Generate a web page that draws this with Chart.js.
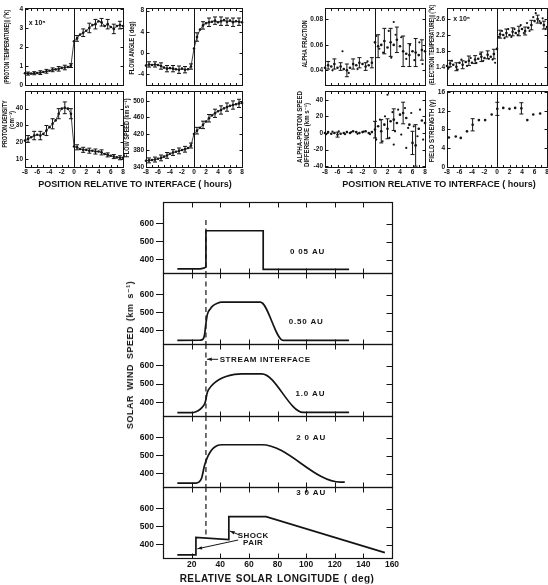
<!DOCTYPE html>
<html>
<head>
<meta charset="utf-8">
<title>Stream interface</title>
<script src="https://cdn.jsdelivr.net/npm/chart.js@4.4.1/dist/chart.umd.min.js"></script>
<style>
  html, body { margin: 0; padding: 0; background: #fff; }
  #fig { position: relative; width: 548px; height: 585px; overflow: hidden; }
  #fig canvas { position: absolute; }
  .txt { position: absolute; color: #141414; font-family: "Liberation Sans", "DejaVu Sans", sans-serif;
         font-weight: bold; white-space: nowrap; transform: translate(-50%, -50%);
         -webkit-font-smoothing: antialiased; will-change: transform; }
</style>
</head>
<body>
<div id="fig">
  <div class="txt" style="left:135px; top:184px; font-size:9px;">POSITION RELATIVE TO INTERFACE ( hours)</div>
  <div class="txt" style="left:439px; top:184px; font-size:9px;">POSITION RELATIVE TO INTERFACE ( hours)</div>
  <div class="txt" style="left:130px; top:355px; font-size:9px; letter-spacing:0.5px; word-spacing:2px; transform: translate(-50%, -50%) rotate(-90deg);">SOLAR WIND SPEED (km s⁻¹)</div>
  <div class="txt" style="left:277px; top:578px; font-size:10px; letter-spacing:0.4px; word-spacing:1px;">RELATIVE SOLAR LONGITUDE ( deg)</div>
</div>
<script>
// ---- datos: paneles superiores (horas respecto a la interfaz) ----
const hours = [-8, -7.5, -7, -6.5, -6, -5.5, -5, -4.5, -4, -3.5, -3, -2.5, -2, -1.5, -1, -0.5,
  0, 0.5, 1, 1.5, 2, 2.5, 3, 3.5, 4, 4.5, 5, 5.5, 6, 6.5, 7, 7.5, 8];
const hourLabels = [-8, -6, -4, -2, 0, 2, 4, 6, 8];
const hourTicks = [-8, -7, -6, -5, -4, -3, -2, -1, 0, 1, 2, 3, 4, 5, 6, 7, 8];

const protonTemp = [0.62, 0.6, 0.6, 0.62, 0.63, 0.65, 0.68, 0.72, 0.75, 0.8, 0.82, 0.85, 0.9, 0.92, 0.95, 1.02,
  2.3, 2.45, 2.65, 2.75, 2.85, 3.0, 3.15, 3.2, 3.35, 3.3, 3.1, 3.2, 3.05, 2.95, 3.1, 3.15, 3.1];
const protonTempErr = [0, 0.08, 0, 0.08, 0, 0.1, 0, 0.1, 0, 0.1, 0, 0.12, 0, 0.12, 0, 0.1,
  0, 0.15, 0, 0.2, 0, 0.25, 0, 0.25, 0, 0.2, 0, 0.25, 0, 0.25, 0, 0.2, 0];
const protonTempTicks = [0, 1, 2, 3, 4];

const flowAngle = [-2.4, -2.2, -2.3, -2.2, -2.3, -2.5, -2.8, -3.0, -2.9, -3.0, -3.1, -3.2, -3.0, -3.2, -3.1, -2.6,
  0.8, 3.0, 4.4, 5.2, 5.6, 5.8, 5.9, 6.1, 5.8, 6.0, 6.2, 5.9, 6.1, 5.8, 6.0, 5.9, 5.8];
const flowAngleErr = [0, 0.5, 0, 0.5, 0, 0.6, 0, 0.6, 0, 0.6, 0, 0.7, 0, 0.6, 0, 0.5,
  0, 0.8, 0, 0.7, 0, 0.8, 0, 0.7, 0, 0.8, 0, 0.7, 0, 0.8, 0, 0.7, 0];
const flowAngleTicks = [-4, 0, 4, 8];

const protonDensity = [21, 22, 23, 24, 24.5, 24, 25, 27, 29, 31, 33, 37, 40, 40.5, 40, 37,
  17.5, 17, 16, 15.5, 15.5, 15, 15, 14.5, 14.5, 14, 13, 12.5, 12, 11.5, 11, 10.8, 10.8];
const protonDensityErr = [0, 2, 0, 2.5, 0, 2.5, 0, 3, 0, 3, 0, 3, 0, 3.5, 0, 3,
  0, 1.5, 0, 1.5, 0, 1.5, 0, 1.5, 0, 1.5, 0, 1.2, 0, 1.2, 0, 1.2, 0];
const protonDensityTicks = [10, 20, 30, 40];

const flowSpeed = [355, 356, 357, 358, 360, 362, 365, 368, 372, 375, 377, 379, 381, 383, 386, 392,
  420, 428, 435, 442, 450, 458, 465, 470, 475, 478, 482, 485, 488, 490, 492, 494, 495];
const flowSpeedErr = [0, 6, 0, 6, 0, 7, 0, 7, 0, 7, 0, 7, 0, 7, 0, 6,
  0, 8, 0, 9, 0, 9, 0, 10, 0, 10, 0, 10, 0, 10, 0, 10, 0];
const flowSpeedTicks = [340, 380, 420, 460, 500];

const alphaFraction = [0.042, 0.044, 0.043, 0.045, 0.042, 0.043, 0.041, 0.040, 0.042, 0.045, 0.044, 0.046, 0.045, 0.043, 0.044, 0.046,
  0.062, 0.059, 0.060, 0.063, 0.058, 0.062, 0.060, 0.064, 0.059, 0.055, 0.053, 0.052, 0.055, 0.054, 0.052, 0.056, 0.055];
const alphaFractionErr = [0, 0.003, 0, 0.004, 0, 0.003, 0, 0.005, 0, 0.004, 0, 0.004, 0, 0.003, 0, 0.004,
  0, 0.009, 0, 0.01, 0, 0.011, 0, 0.01, 0, 0.012, 0, 0.009, 0, 0.011, 0, 0.008, 0];
const alphaExtraHours = [-6.8, -5.2, -4.2, -2.8, -1.2, 0.2, 0.7, 1.3, 2.2, 2.6, 3.0, 3.3, 4.2, 5.0, 5.6, 6.3, 7.1, 7.6];
const alphaExtra = [0.040, 0.055, 0.038, 0.041, 0.047, 0.067, 0.057, 0.054, 0.071, 0.050, 0.078, 0.068, 0.066, 0.049, 0.060, 0.048, 0.062, 0.045];
const alphaTicks = [0.04, 0.06, 0.08];

const electronTemp = [1.42, 1.48, 1.45, 1.4, 1.5, 1.45, 1.52, 1.55, 1.5, 1.58, 1.6, 1.65, 1.62, 1.7, 1.65, 1.72,
  1.85, 2.22, 2.2, 2.25, 2.2, 2.28, 2.25, 2.3, 2.35, 2.3, 2.38, 2.45, 2.55, 2.6, 2.5, 2.45, 2.4];
const electronTempErr = [0, 0.08, 0, 0.1, 0, 0.1, 0, 0.12, 0, 0.1, 0, 0.12, 0, 0.1, 0, 0.12,
  0, 0.1, 0, 0.1, 0, 0.1, 0, 0.12, 0, 0.1, 0, 0.12, 0, 0.1, 0, 0.1, 0];
const electronExtraHours = [-7.8, -7.2, -6.3, -5.7, -4.8, -4.2, -3.3, -2.7, -2.2, -1.3, -0.7, -0.3,
  0.3, 0.8, 1.2, 1.8, 2.3, 2.8, 3.3, 3.8, 4.3, 4.8, 5.2, 5.8, 6.2, 6.8, 7.3, 7.8];
const electronExtra = [1.35, 1.55, 1.33, 1.58, 1.42, 1.62, 1.5, 1.72, 1.55, 1.6, 1.58, 1.5,
  2.15, 2.3, 2.12, 2.35, 2.15, 2.35, 2.2, 2.45, 2.25, 2.5, 2.3, 2.65, 2.75, 2.55, 2.62, 2.35];
const electronTicks = [1.4, 1.8, 2.2, 2.6];

const speedDiff = [0, 1, -1, 0, -2, -1, 0, 1, 0, 2, 1, 0, 1, 2, 0, 1,
  4, 8, 2, 10, 5, 14, 16, 12, 22, 24, 18, 10, -12, -15, 5, 15, 12];
const speedDiffErr = [0, 0, 0, 0, 3, 0, 0, 0, 0, 0, 0, 0, 0, 0, 0, 0,
  10, 0, 14, 0, 12, 0, 13, 0, 0, 13, 0, 0, 14, 25, 0, 0, 0];
const diffExtraHours = [-7.8, -6.8, -5.8, -4.8, -3.8, -2.8, -1.8, -0.8, 0.2, 0.8, 1.2, 1.6, 2.0, 2.3, 2.8,
  3.0, 3.2, 3.7, 4.2, 4.8, 5.0, 5.3, 5.8, 6.2, 6.8, 7.2, 7.7];
const diffExtra = [-1.5, 1.5, 2, -1.5, 1, -1, 1.5, -1.5, -8, 16, -10, 20, 46, -6, 25,
  -14, 2, 28, -2, 30, -18, 6, 24, 8, -4, 28, -8];
const speedDiffTicks = [-40, -20, 0, 20, 40];

const fieldHours = [-7.7, -6.6, -5.8, -4.8, -3.9, -2.9, -1.9, -0.85, 0.05, 1.0, 2.0, 2.9, 3.9, 4.85, 5.8, 6.9];
const fieldStrength = [6.3, 6.5, 6.2, 7.6, 9.0, 10, 10, 11.2, 12.4, 12.6, 12.4, 12.6, 12.5, 10, 11.2, 11.4];
const fieldErr = [0, 0, 0, 0, 1.3, 0, 0, 0, 1.4, 0, 0, 0, 1.2, 0, 0, 0];
const fieldTicks = [0, 4, 8, 12, 16];

// ---- datos: velocidad del viento solar vs longitud ----
const lon005 = [10, 26, 28.5, 30, 30, 70, 70, 130];
const speed005 = [348, 348, 352, 358, 560, 560, 345, 345];
const lon050 = [10, 26, 28, 29, 30, 31, 33, 35, 38, 41, 68, 84, 130];
const speed050 = [345, 346, 352, 375, 440, 490, 520, 538, 552, 558, 558, 345, 345];
const lon100 = [10, 20, 23, 26, 28, 29.5, 31, 33, 35, 39, 44, 50, 55, 69, 98, 130];
const speed100 = [343, 343, 348, 362, 378, 400, 455, 482, 500, 524, 542, 553, 556, 556, 345, 345];
const lon200 = [10, 23, 25, 27, 29, 31, 33, 35, 38, 41, 69, 124, 127];
const speed200 = [347, 347, 352, 375, 445, 490, 520, 540, 556, 560, 560, 352, 352];
const lon300 = [10, 23, 23, 46, 46, 72, 155];
const speed300 = [342, 342, 440, 428, 555, 555, 355];
const interfaceLon = 30;
const dashSpan = [[620, 325], [720, 325], [720, 325], [720, 325], [720, 455]];
const lonTicks = [0, 20, 40, 60, 80, 100, 120, 140, 160];
const speedTicks = [400, 500, 600];

const INK = '#141414';
const SANS = '"Liberation Sans", "DejaVu Sans", sans-serif';

Chart.defaults.color = INK;
Chart.defaults.animation = false;
Chart.defaults.events = [];
Chart.defaults.plugins.legend.display = false;
Chart.defaults.plugins.tooltip.enabled = false;

function makeCanvas(x, y, w, h) {
  const c = document.createElement('canvas');
  c.width = w;
  c.height = h;
  c.style.left = x + 'px';
  c.style.top = y + 'px';
  document.getElementById('fig').appendChild(c);
  return c;
}

function pts(xs, ys) {
  return xs.map((x, i) => ({ x: x, y: ys[i] }));
}

// sin márgenes extra por las etiquetas: el área del gráfico queda fija
function fixHeight(h) {
  return s => { s.height = h; s.paddingLeft = 0; s.paddingRight = 0; };
}
function fixWidth(w) {
  return s => { s.width = w; s.paddingTop = 0; s.paddingBottom = 0; };
}

// marco, marcas interiores, barras de error y rótulos
function deco(spec) {
  return {
    id: 'deco',
    afterDatasetsDraw(chart) {
      const ctx = chart.ctx, a = chart.chartArea;
      const xs = chart.scales.x, ys = chart.scales.y;
      const L = Math.round(a.left) + 0.5, R = Math.round(a.right) + 0.5;
      const T = Math.round(a.top) + 0.5, B = Math.round(a.bottom) + 0.5;
      const seg = (x1, y1, x2, y2) => { ctx.beginPath(); ctx.moveTo(x1, y1); ctx.lineTo(x2, y2); ctx.stroke(); };
      ctx.save();
      ctx.strokeStyle = INK;
      ctx.fillStyle = INK;
      ctx.lineWidth = 1;

      chart.data.datasets.forEach(ds => {
        if (!ds.err) return;
        ds.data.forEach((p, i) => {
          const e = ds.err[i];
          if (!e) return;
          const px = xs.getPixelForValue(p.x);
          const y1 = ys.getPixelForValue(p.y - e), y2 = ys.getPixelForValue(p.y + e);
          seg(px, y1, px, y2);
          seg(px - 2, y1, px + 2, y1);
          seg(px - 2, y2, px + 2, y2);
        });
      });

      if (spec.vline !== undefined) {
        const vx = Math.round(xs.getPixelForValue(spec.vline)) + 0.5;
        seg(vx, T, vx, B);
      }

      ctx.lineWidth = spec.frameWidth || 1;
      ctx.strokeRect(L, T, R - L, B - T);
      ctx.lineWidth = 1;
      spec.xTicks.forEach(v => {
        const px = Math.round(xs.getPixelForValue(v)) + 0.5;
        seg(px, T, px, T + spec.xLen);
        seg(px, B, px, B - spec.xLen);
      });
      ys.ticks.forEach(t => {
        const py = Math.round(ys.getPixelForValue(t.value)) + 0.5;
        if (spec.yLeft) seg(L, py, L + spec.yLen, py);
        seg(R, py, R - spec.yLen, py);
      });

      // título del eje y, girado y estrechado a la longitud del original
      (spec.ytitle || []).forEach(line => {
        ctx.save();
        ctx.font = 'bold 6.5px ' + SANS;
        ctx.textAlign = 'center';
        ctx.textBaseline = 'middle';
        const w = ctx.measureText(line.text).width;
        ctx.translate(line.x - spec.ox, line.cy - spec.oy);
        ctx.rotate(-Math.PI / 2);
        ctx.scale(line.len / w, 1);
        ctx.fillText(line.text, 0, 0);
        ctx.restore();
      });

      (spec.notes || []).forEach(n => {
        ctx.font = n.font;
        ctx.textAlign = n.align || 'center';
        ctx.textBaseline = 'middle';
        if ('letterSpacing' in ctx) ctx.letterSpacing = n.spacing || '0px';
        ctx.fillText(n.text, xs.getPixelForValue(n.x), ys.getPixelForValue(n.y));
      });
      (spec.arrows || []).forEach(([x1, y1, x2, y2]) => {
        const ax = xs.getPixelForValue(x1), ay = ys.getPixelForValue(y1);
        const bx = xs.getPixelForValue(x2), by = ys.getPixelForValue(y2);
        seg(ax, ay, bx, by);
        const ang = Math.atan2(by - ay, bx - ax);
        ctx.beginPath();
        ctx.moveTo(bx, by);
        ctx.lineTo(bx - 5 * Math.cos(ang - 0.35), by - 5 * Math.sin(ang - 0.35));
        ctx.lineTo(bx - 5 * Math.cos(ang + 0.35), by - 5 * Math.sin(ang + 0.35));
        ctx.closePath();
        ctx.fill();
      });
      ctx.restore();
    }
  };
}

function topPanel(p) {
  const [l, t, r, b] = p.frame;
  const xh = p.bottomRow ? 10 : 0;
  const padB = p.bottomRow ? 0 : 3;
  const ox = l - p.yw, oy = t - 3;
  const canvas = makeCanvas(ox, oy, r - l + p.yw + 4, b - t + 3 + xh + padB);
  const tickFont = { family: SANS, size: 6.5, weight: 'bold' };
  const datasets = [{
    data: pts(p.xs, p.ys),
    err: p.err,
    showLine: !!p.line,
    borderColor: INK,
    borderWidth: 0.8,
    pointRadius: 1.3,
    pointBackgroundColor: INK,
    pointBorderWidth: 0,
    clip: 3
  }];
  if (p.extraX) {
    datasets.push({
      data: pts(p.extraX, p.extraY),
      showLine: false,
      pointRadius: 1.1,
      pointBackgroundColor: INK,
      pointBorderWidth: 0,
      clip: 3
    });
  }
  return new Chart(canvas, {
    type: 'line',
    data: { datasets: datasets },
    options: {
      responsive: false,
      devicePixelRatio: 1,
      layout: { padding: { top: 3, right: 4, bottom: padB, left: 0 } },
      scales: {
        x: {
          type: 'linear', min: -8, max: 8, display: p.bottomRow,
          afterBuildTicks: s => { s.ticks = hourLabels.map(v => ({ value: v })); },
          afterFit: fixHeight(xh),
          ticks: { font: tickFont, padding: 1, maxRotation: 0, autoSkip: false },
          grid: { drawOnChartArea: false, drawTicks: false },
          border: { display: false }
        },
        y: {
          type: 'linear', min: p.min, max: p.max,
          afterBuildTicks: s => { s.ticks = p.ticks.map(v => ({ value: v })); },
          afterFit: fixWidth(p.yw),
          ticks: { font: tickFont, padding: 2 },
          grid: { drawOnChartArea: false, drawTicks: false },
          border: { display: false }
        }
      }
    },
    plugins: [deco({ vline: 0, xTicks: hourTicks, xLen: 2.5, yLen: 3, yLeft: true,
                     notes: p.notes, ytitle: p.title, ox: ox, oy: oy })]
  });
}

const windTop = [202, 273, 344, 416, 487, 558];

function windPanel(k, lon, speed, smooth, notes, arrows) {
  const t = windTop[k], b = windTop[k + 1], last = k === 4;
  const xh = last ? 13 : 0, padB = last ? 0 : 2;
  const canvas = makeCanvas(123, t - 3, 40 + 229 + 10, b - t + 3 + xh + padB);
  return new Chart(canvas, {
    type: 'line',
    data: {
      datasets: [{
        data: pts(lon, speed),
        borderColor: INK,
        borderWidth: 1.7,
        pointRadius: 0,
        cubicInterpolationMode: smooth ? 'monotone' : 'default',
        clip: 3
      }, {
        data: pts([interfaceLon, interfaceLon], dashSpan[k]),
        borderColor: INK,
        borderWidth: 1.2,
        borderDash: [5, 3.5],
        pointRadius: 0,
        clip: 3
      }]
    },
    options: {
      responsive: false,
      devicePixelRatio: 1,
      layout: { padding: { top: 3, right: 10, bottom: padB, left: 0 } },
      scales: {
        x: {
          type: 'linear', min: 0, max: 160, display: last,
          afterBuildTicks: s => { s.ticks = lonTicks.map(v => ({ value: v })); },
          afterFit: fixHeight(xh),
          ticks: { font: { family: SANS, size: 8.5, weight: 'bold' }, padding: 2, maxRotation: 0,
                   autoSkip: false, callback: v => (v === 0 ? '' : v) },
          grid: { drawOnChartArea: false, drawTicks: false },
          border: { display: false }
        },
        y: {
          type: 'linear', min: 325, max: 720,
          afterBuildTicks: s => { s.ticks = speedTicks.map(v => ({ value: v })); },
          afterFit: fixWidth(40),
          ticks: { font: { family: SANS, size: 8.5, weight: 'bold' }, padding: 2 },
          grid: { drawOnChartArea: false, drawTicks: true, tickLength: 7, color: INK, lineWidth: 1 },
          border: { display: false }
        }
      }
    },
    plugins: [deco({ xTicks: lonTicks, xLen: 5, yLen: 6, yLeft: false, frameWidth: 1.2, notes: notes, arrows: arrows })]
  });
}

const auFont = 'bold 8px ' + SANS;

topPanel({ frame: [25, 7, 123, 86], yw: 22, xs: hours, ys: protonTemp, err: protonTempErr, line: true,
  min: 0, max: 4.05, ticks: protonTempTicks,
  title: [{ text: '(PROTON TEMPERATURE)∥ (°K)', x: 7, cy: 47, len: 74 }],
  notes: [{ x: -7.4, y: 3.25, text: 'x 10⁵', align: 'left', font: 'bold 7px ' + SANS }] });
topPanel({ frame: [146, 7, 242, 86], yw: 18, xs: hours, ys: flowAngle, err: flowAngleErr, line: true,
  min: -6.1, max: 8.5, ticks: flowAngleTicks,
  title: [{ text: 'FLOW ANGLE ( deg)', x: 132, cy: 48, len: 53 }] });
topPanel({ frame: [25, 90, 123, 167], yw: 23, xs: hours, ys: protonDensity, err: protonDensityErr, line: true,
  min: 5.3, max: 50.5, ticks: protonDensityTicks, bottomRow: true,
  title: [{ text: 'PROTON DENSITY', x: 5, cy: 124, len: 47 }, { text: '(cm⁻³)', x: 12, cy: 120, len: 18 }] });
topPanel({ frame: [146, 90, 242, 167], yw: 23, xs: hours, ys: flowSpeed, err: flowSpeedErr, line: true,
  min: 340, max: 524, ticks: flowSpeedTicks, bottomRow: true,
  title: [{ text: 'FLOW SPEED (km s⁻¹)', x: 127, cy: 128, len: 59 }] });
topPanel({ frame: [325, 7, 425, 86], yw: 24, xs: hours, ys: alphaFraction, err: alphaFractionErr,
  extraX: alphaExtraHours, extraY: alphaExtra, min: 0.0285, max: 0.089, ticks: alphaTicks,
  title: [{ text: 'ALPHA FRACTION', x: 305, cy: 44, len: 47 }] });
topPanel({ frame: [447, 7, 547, 86], yw: 19, xs: hours, ys: electronTemp, err: electronTempErr,
  extraX: electronExtraHours, extraY: electronExtra, min: 0.94, max: 2.88, ticks: electronTicks,
  title: [{ text: '(ELECTRON TEMPERATURE)∥ (°K)', x: 432, cy: 45, len: 80 }],
  notes: [{ x: -7, y: 2.6, text: 'x 10⁵', align: 'left', font: 'bold 7px ' + SANS }] });
topPanel({ frame: [325, 90, 425, 167], yw: 29, xs: hours, ys: speedDiff, err: speedDiffErr,
  extraX: diffExtraHours, extraY: diffExtra, min: -41, max: 50.5, ticks: speedDiffTicks, bottomRow: true,
  title: [{ text: 'ALPHA-PROTON SPEED', x: 300, cy: 127, len: 72 }, { text: 'DIFFERENCE (km s⁻¹)', x: 307, cy: 135, len: 64 }] });
topPanel({ frame: [447, 90, 547, 167], yw: 19, xs: fieldHours, ys: fieldStrength, err: fieldErr,
  min: 0, max: 16.2, ticks: fieldTicks, bottomRow: true,
  title: [{ text: 'FIELD STRENGTH (γ)', x: 432, cy: 131, len: 63 }] });

windPanel(0, lon005, speed005, false, [{ x: 101, y: 442, text: '0 05 AU', font: auFont, spacing: '0.8px' }]);
windPanel(1, lon050, speed050, true, [{ x: 100, y: 447, text: '0.50 AU', font: auFont, spacing: '0.8px' }]);
windPanel(2, lon100, speed100, true, [
  { x: 103, y: 447, text: '1.0 AU', font: auFont, spacing: '0.8px' },
  { x: 39.6, y: 636, text: 'STREAM INTERFACE', align: 'left', font: auFont, spacing: '0.6px' }
], [[38.5, 636, 30.8, 636]]);
windPanel(3, lon200, speed200, true, [{ x: 103.5, y: 598, text: '2 0 AU', font: auFont, spacing: '0.8px' }]);
windPanel(4, lon300, speed300, false, [
  { x: 103.5, y: 687, text: '3 0 AU', font: auFont, spacing: '0.8px' },
  { x: 63, y: 450, text: 'SHOCK', font: auFont, spacing: '0.4px' },
  { x: 63, y: 410, text: 'PAIR', font: auFont, spacing: '0.4px' }
], [[53.5, 453, 46.8, 475], [52.5, 425, 24, 376]]);
</script>
</body>
</html>
